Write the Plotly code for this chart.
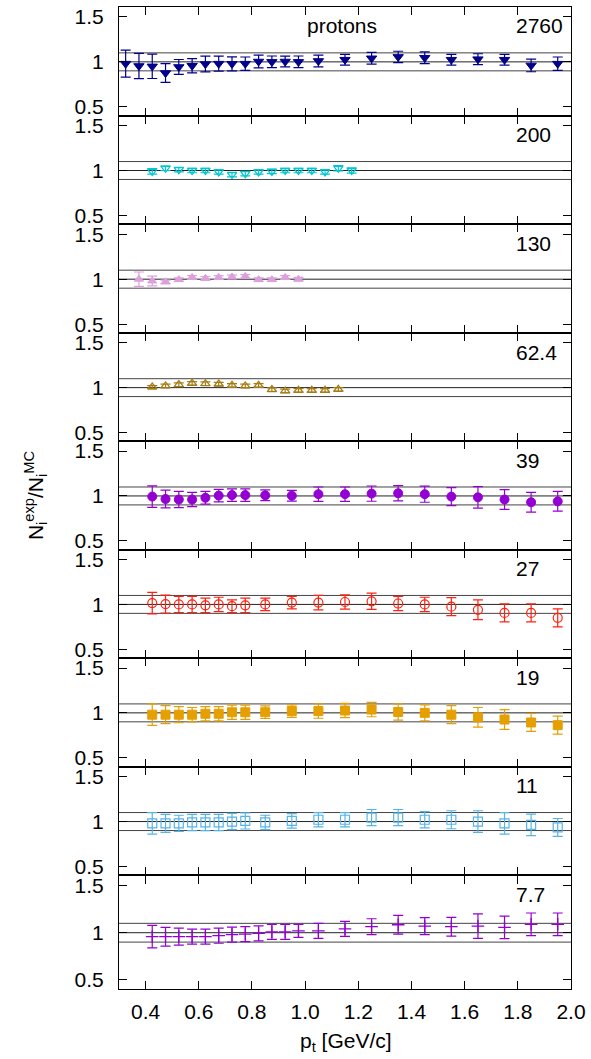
import plotly.graph_objects as go

# ---------------- data ----------------
energies = ["2760", "200", "130", "62.4", "39", "27", "19", "11", "7.7"]

pt_2760 = [0.325, 0.375, 0.425, 0.475, 0.525, 0.575, 0.625, 0.675, 0.725, 0.775, 0.825, 0.875, 0.925, 0.975,
           1.05, 1.15, 1.25, 1.35, 1.45, 1.55, 1.65, 1.75, 1.85, 1.95]
r_2760 = [0.98, 0.954, 0.95, 0.876, 0.943, 0.957, 0.976, 0.98, 0.978, 0.98, 1.004, 1.0, 1.004, 1.0,
          1.01, 1.024, 1.04, 1.055, 1.046, 1.024, 1.03, 1.024, 0.96, 0.98]
e_2760 = [0.15, 0.14, 0.135, 0.105, 0.083, 0.08, 0.087, 0.083, 0.078, 0.074, 0.07, 0.065, 0.06, 0.065,
          0.065, 0.06, 0.065, 0.063, 0.065, 0.06, 0.06, 0.06, 0.07, 0.074]

pt_200 = [0.425, 0.475, 0.525, 0.575, 0.625, 0.675, 0.725, 0.775, 0.825, 0.875, 0.925, 0.975,
          1.025, 1.075, 1.125, 1.175]
r_200 = [0.99, 1.025, 1.01, 1.0, 1.0, 0.985, 0.955, 0.965, 0.985, 0.99, 1.0, 1.0, 1.0, 0.985, 1.025, 1.0]
e_200 = [0.03, 0.025, 0.025, 0.025, 0.025, 0.025, 0.025, 0.025, 0.025, 0.025, 0.025, 0.025,
         0.025, 0.025, 0.03, 0.03]

pt_130 = [0.375, 0.425, 0.475, 0.525, 0.575, 0.625, 0.675, 0.725, 0.775, 0.825, 0.875, 0.925, 0.975]
r_130 = [1.0, 0.98, 0.97, 0.995, 1.02, 1.01, 1.02, 1.025, 1.03, 0.995, 0.995, 1.02, 1.0]
e_130 = [0.08, 0.055, 0.02, 0.02, 0.02, 0.02, 0.02, 0.02, 0.02, 0.02, 0.02, 0.02, 0.02]

pt_62 = [0.425, 0.475, 0.525, 0.575, 0.625, 0.675, 0.725, 0.775, 0.825, 0.875, 0.925, 0.975,
         1.025, 1.075, 1.125]
r_62 = [1.007, 1.019, 1.033, 1.048, 1.044, 1.04, 1.026, 1.019, 1.026, 0.978, 0.963, 0.97, 0.97, 0.97, 0.98]
e_62 = [0.015, 0.02, 0.02, 0.02, 0.02, 0.02, 0.02, 0.02, 0.02, 0.02, 0.02, 0.02, 0.02, 0.02, 0.02]

pt_std = [0.425, 0.475, 0.525, 0.575, 0.625, 0.675, 0.725, 0.775, 0.85, 0.95,
          1.05, 1.15, 1.25, 1.35, 1.45, 1.55, 1.65, 1.75, 1.85, 1.95]

r_39 = [0.993, 0.966, 0.96, 0.96, 0.98, 1.004, 1.01, 1.01, 1.007, 1.003,
        1.02, 1.02, 1.026, 1.03, 1.02, 0.993, 0.985, 0.96, 0.93, 0.94]
e_39 = [0.12, 0.1, 0.09, 0.08, 0.07, 0.07, 0.07, 0.07, 0.06, 0.06,
        0.08, 0.08, 0.085, 0.085, 0.09, 0.1, 0.12, 0.11, 0.11, 0.11]

r_27 = [1.015, 1.004, 1.0, 1.0, 0.99, 1.0, 0.98, 0.99, 1.0, 1.02,
        1.02, 1.027, 1.035, 1.01, 1.0, 0.975, 0.94, 0.905, 0.905, 0.85]
e_27 = [0.12, 0.1, 0.09, 0.09, 0.08, 0.08, 0.07, 0.08, 0.07, 0.07,
        0.08, 0.08, 0.09, 0.08, 0.08, 0.1, 0.11, 0.1, 0.1, 0.1]

r_19 = [0.98, 0.98, 0.98, 0.98, 0.99, 0.99, 1.007, 1.007, 1.007, 1.02,
        1.02, 1.026, 1.037, 1.01, 1.0, 0.98, 0.95, 0.926, 0.893, 0.863]
e_19 = [0.12, 0.1, 0.09, 0.08, 0.08, 0.08, 0.08, 0.08, 0.07, 0.07,
        0.08, 0.08, 0.08, 0.09, 0.09, 0.1, 0.11, 0.11, 0.1, 0.1]

r_11 = [0.98, 0.98, 0.98, 0.99, 0.99, 0.99, 1.0, 1.007, 0.99, 1.007,
        1.02, 1.02, 1.044, 1.044, 1.02, 1.02, 1.0, 0.98, 0.963, 0.934]
e_11 = [0.12, 0.1, 0.09, 0.09, 0.09, 0.09, 0.09, 0.09, 0.08, 0.08,
        0.08, 0.08, 0.09, 0.09, 0.09, 0.1, 0.12, 0.12, 0.12, 0.1]

pt_7 = [0.425, 0.475, 0.525, 0.575, 0.625, 0.675, 0.725, 0.775, 0.825, 0.875, 0.925, 0.975,
        1.05, 1.15, 1.25, 1.35, 1.45, 1.55, 1.65, 1.75, 1.85, 1.95]
r_7 = [0.958, 0.958, 0.958, 0.958, 0.958, 0.968, 0.98, 0.986, 0.993, 1.01, 1.01, 1.02,
       1.02, 1.04, 1.064, 1.085, 1.07, 1.064, 1.07, 1.057, 1.09, 1.09]
e_7 = [0.12, 0.1, 0.09, 0.08, 0.08, 0.08, 0.08, 0.08, 0.08, 0.08, 0.08, 0.07,
       0.08, 0.08, 0.085, 0.1, 0.09, 0.1, 0.13, 0.12, 0.12, 0.12]

xticks = [0.4, 0.6, 0.8, 1.0, 1.2, 1.4, 1.6, 1.8, 2.0]
xticklabels = ["0.4", "0.6", "0.8", "1.0", "1.2", "1.4", "1.6", "1.8", "2.0"]
yticks = [0.5, 1.0, 1.5]
yticklabels = ["0.5", "1", "1.5"]
ref_lines = [0.9, 1.0, 1.1]

# ---------------- styles ----------------
series = [
    (pt_2760, r_2760, e_2760, "#00008b", "triangle-down", 9, 1),
    (pt_200, r_200, e_200, "#00c8d2", "triangle-down-open", 8, 1.3),
    (pt_130, r_130, e_130, "#dda0dd", "triangle-up", 8, 1),
    (pt_62, r_62, e_62, "#a57d14", "triangle-up-open", 8, 1.3),
    (pt_std, r_39, e_39, "#9400d3", "circle", 9, 1),
    (pt_std, r_27, e_27, "#ff2010", "circle-open", 9, 1.2),
    (pt_std, r_19, e_19, "#e69f00", "square", 9, 1),
    (pt_std, r_11, e_11, "#56b4e9", "square-open", 9, 1.2),
    (pt_7, r_7, e_7, "#9400d3", "cross-thin-open", 9, 1.3),
]

W, H = 591, 1059
ML, MR, MT, MB = 119.3, 18.3, 5, 70.3
bounds = [5, 114, 222.7, 331.7, 440, 548.7, 657.3, 766, 875, 988.7]
PH = H - MT - MB
FONT = "Liberation Sans, Arial, Helvetica, sans-serif"
FS = 21


def frac(ypx):
    return (H - MB - ypx) / PH


fig = go.Figure()
layout = dict(
    width=W, height=H,
    margin=dict(l=ML, r=MR, t=MT, b=MB, pad=0),
    plot_bgcolor="white", paper_bgcolor="white",
    showlegend=False,
    font=dict(family=FONT, size=FS, color="black"),
    shapes=[], annotations=[],
)

n = len(series)
for i, (px, ry, ey, col, sym, sz, lw) in enumerate(series):
    k = i + 1
    xn = "x" if k == 1 else f"x{k}"
    yn = "y" if k == 1 else f"y{k}"
    xkey = "xaxis" if k == 1 else f"xaxis{k}"
    ykey = "yaxis" if k == 1 else f"yaxis{k}"
    fig.add_trace(go.Scatter(
        x=px, y=ry, mode="markers", xaxis=xn, yaxis=yn,
        marker=dict(symbol=sym, size=sz, color=col, line=dict(color=col, width=lw)),
        error_y=dict(type="data", array=ey, color=col, thickness=1.2, width=5),
    ))
    last = (i == n - 1)
    layout[xkey] = dict(
        domain=[0, 1], anchor=yn, range=[0.3, 2.0],
        tickmode="array", tickvals=xticks, ticktext=xticklabels,
        ticks="inside", ticklen=8, tickwidth=1, tickcolor="black",
        showline=True, linecolor="black", linewidth=1.2, mirror="ticks",
        showgrid=False, zeroline=False, showticklabels=last,
        ticklabelstandoff=4,
        tickfont=dict(family=FONT, size=FS, color="black"),
    )
    layout[ykey] = dict(
        domain=[frac(bounds[i + 1]), frac(bounds[i])], anchor=xn, range=[0.4, 1.61],
        tickmode="array", tickvals=yticks, ticktext=yticklabels,
        ticks="inside", ticklen=8, tickwidth=1, tickcolor="black",
        showline=True, linecolor="black", linewidth=1.2, mirror="ticks",
        showgrid=False, zeroline=False,
        ticklabelstandoff=10,
        tickfont=dict(family=FONT, size=FS, color="black"),
    )
    for v in ref_lines:
        layout["shapes"].append(dict(
            type="line", xref=f"{xn} domain", yref=yn, x0=0, x1=1, y0=v, y1=v,
            line=dict(color="#222222" if v == 1.0 else "#444444", width=1), layer="below",
        ))
    layout["annotations"].append(dict(
        text=energies[i], xref=xn, yref=f"{yn} domain", x=1.784, y=1 - 19 / (bounds[i + 1] - bounds[i]),
        xanchor="left", yanchor="middle", showarrow=False,
        font=dict(family=FONT, size=FS, color="black"),
    ))

layout["annotations"].append(dict(
    text="protons", xref="x", yref="y domain", x=1.0, y=1 - 19 / (bounds[1] - bounds[0]),
    xanchor="left", yanchor="middle", showarrow=False,
    font=dict(family=FONT, size=FS, color="black"),
))
layout["annotations"].append(dict(
    text="N<sub>i</sub><sup>exp</sup>/N<sub>i</sub><sup>MC</sup>",
    xref="paper", yref="paper", x=(35 - ML) / (W - ML - MR), y=frac(494),
    xanchor="center", yanchor="middle", textangle=-90, showarrow=False,
    font=dict(family=FONT, size=FS, color="black"),
))
layout["annotations"].append(dict(
    text="p<sub>t</sub> [GeV/c]",
    xref="paper", yref="paper", x=(346.7 - ML) / (W - ML - MR), y=frac(1041.7),
    xanchor="center", yanchor="middle", showarrow=False,
    font=dict(family=FONT, size=FS, color="black"),
))

fig.update_layout(**layout)
fig.write_html("out.html")
